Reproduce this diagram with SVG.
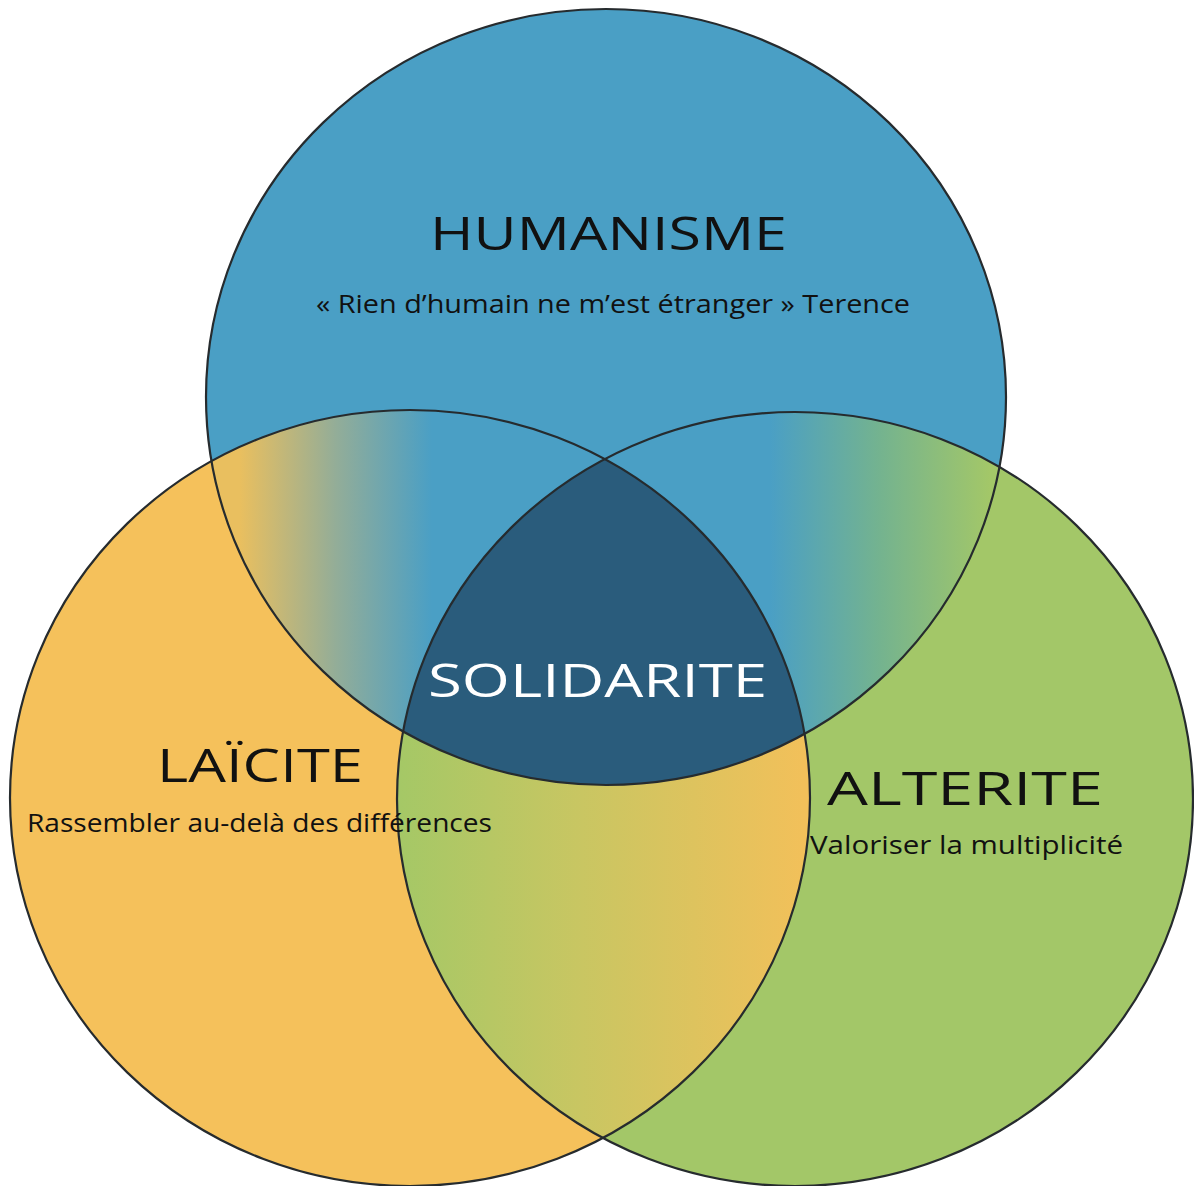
<svg xmlns="http://www.w3.org/2000/svg" width="1194" height="1186" viewBox="0 0 1194 1186">
<style>
.t{font-family:"Open Sans","Noto Sans","DejaVu Sans",sans-serif;fill:#111;}
.title{font-size:46px;}
.sub{font-size:26px;}
.outline{fill:none;stroke:#262b2e;stroke-width:2.2;}
</style>
<defs>
<clipPath id="cBlue"><ellipse cx="606" cy="397" rx="400" ry="388"/></clipPath>
<clipPath id="cOrange"><ellipse cx="410" cy="798" rx="400" ry="388"/></clipPath>
<linearGradient id="gBO" gradientUnits="userSpaceOnUse" x1="240" y1="0" x2="432" y2="0">
<stop offset="0" stop-color="#e9bf5f"/><stop offset="0.5" stop-color="#93ad98"/><stop offset="1" stop-color="#4a9fc5"/></linearGradient>
<linearGradient id="gBG" gradientUnits="userSpaceOnUse" x1="770" y1="0" x2="990" y2="0">
<stop offset="0" stop-color="#4a9fc5"/><stop offset="0.5" stop-color="#74b38f"/><stop offset="1" stop-color="#a3c768"/></linearGradient>
<linearGradient id="gOG" gradientUnits="userSpaceOnUse" x1="400" y1="0" x2="805" y2="0">
<stop offset="0" stop-color="#a5c866"/><stop offset="0.45" stop-color="#c9c662"/><stop offset="1" stop-color="#f2c05a"/></linearGradient>
</defs>
<rect width="1194" height="1186" fill="#fff"/>
<g id="laicite-circle"><ellipse cx="410" cy="798" rx="400" ry="388" fill="#f5c15b"/></g>
<g id="alterite-circle"><ellipse cx="795" cy="799" rx="398" ry="387" fill="#a3c768"/></g>
<g id="humanisme-circle"><ellipse cx="606" cy="397" rx="400" ry="388" fill="#4a9fc5"/></g>
<g id="overlaps">
<g clip-path="url(#cBlue)"><ellipse cx="410" cy="798" rx="400" ry="388" fill="url(#gBO)"/></g>
<g clip-path="url(#cBlue)"><ellipse cx="795" cy="799" rx="398" ry="387" fill="url(#gBG)"/></g>
<g clip-path="url(#cOrange)"><ellipse cx="795" cy="799" rx="398" ry="387" fill="url(#gOG)"/></g>
<g id="solidarite-center" clip-path="url(#cBlue)"><g clip-path="url(#cOrange)"><ellipse cx="795" cy="799" rx="398" ry="387" fill="#2a5c7c"/></g></g>
</g>
<g id="outlines">
<ellipse class="outline" cx="410" cy="798" rx="400" ry="388"/>
<ellipse class="outline" cx="795" cy="799" rx="398" ry="387"/>
<ellipse class="outline" cx="606" cy="397" rx="400" ry="388"/>
</g>
<g id="humanisme">
<text class="t title" x="430" y="250" textLength="357" lengthAdjust="spacingAndGlyphs">HUMANISME</text>
<text class="t sub" x="316" y="313" textLength="594" lengthAdjust="spacingAndGlyphs">« Rien d’humain ne m’est étranger » Terence</text>
</g>
<g id="solidarite">
<text class="t title" x="428" y="697" textLength="339" lengthAdjust="spacingAndGlyphs" style="fill:#fff">SOLIDARITE</text>
</g>
<g id="laicite">
<text class="t title" x="157" y="782" textLength="206" lengthAdjust="spacingAndGlyphs">LAÏCITE</text>
<text class="t sub" x="27" y="832" textLength="465" lengthAdjust="spacingAndGlyphs">Rassembler au-delà des différences</text>
</g>
<g id="alterite">
<text class="t title" x="827" y="805" textLength="276" lengthAdjust="spacingAndGlyphs">ALTERITE</text>
<text class="t sub" x="810" y="854" textLength="313" lengthAdjust="spacingAndGlyphs">Valoriser la multiplicité</text>
</g>
</svg>
